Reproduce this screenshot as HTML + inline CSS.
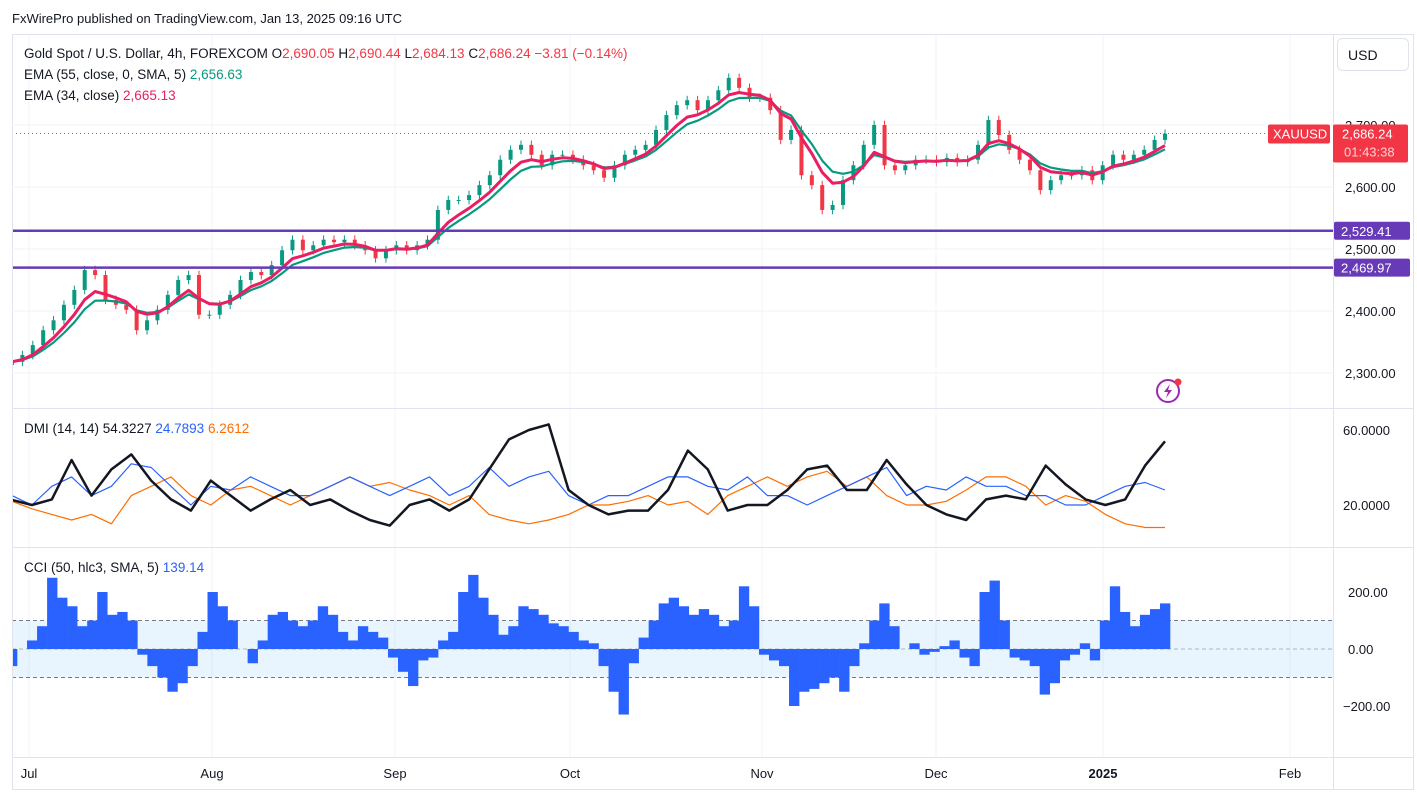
<!DOCTYPE html>
<html><head><meta charset="utf-8">
<style>
html,body{margin:0;padding:0;background:#fff;}
body{width:1417px;height:794px;overflow:hidden;font-family:"Liberation Sans",sans-serif;}
svg text{font-family:"Liberation Sans",sans-serif;}
</style></head>
<body>
<svg id="c" width="1417" height="794" xmlns="http://www.w3.org/2000/svg">
<defs><clipPath id="plot"><rect x="13" y="35" width="1320" height="722"/></clipPath></defs>
<text x="12" y="23" font-size="13" fill="#131722">FxWirePro published on TradingView.com, Jan 13, 2025 09:16 UTC</text>
<rect x="12.5" y="34.5" width="1401" height="755" fill="none" stroke="#e0e3eb"/>
<g id="grid"></g>
<g clip-path="url(#plot)"><g id="main"></g><g id="dmi"></g><g id="cci"></g></g>
<g id="axes"></g>
<g id="legend" font-size="13.5">
<text x="24" y="58" fill="#131722">Gold Spot / U.S. Dollar, 4h, FOREXCOM  <tspan>O</tspan><tspan fill="#f23645">2,690.05</tspan>  H<tspan fill="#f23645">2,690.44</tspan>  L<tspan fill="#f23645">2,684.13</tspan>  C<tspan fill="#f23645">2,686.24</tspan> <tspan fill="#f23645">−3.81 (−0.14%)</tspan></text>
<text x="24" y="79" fill="#131722">EMA (55, close, 0, SMA, 5)  <tspan fill="#089981">2,656.63</tspan></text>
<text x="24" y="100" fill="#131722">EMA (34, close)  <tspan fill="#e91e63">2,665.13</tspan></text>
<text x="24" y="433" fill="#131722">DMI (14, 14)  <tspan fill="#131722">54.3227</tspan>  <tspan fill="#2962ff">24.7893</tspan>  <tspan fill="#ff6d00">6.2612</tspan></text>
<text x="24" y="572" fill="#131722">CCI (50, hlc3, SMA, 5)  <tspan fill="#2962ff">139.14</tspan></text>
</g>
<g>
<rect x="1337.5" y="38.5" width="71" height="32" rx="5" fill="#fff" stroke="#e0e3eb"/>
<text x="1348" y="60" font-size="14" fill="#131722">USD</text>
</g>
<g>
<circle cx="1168" cy="391" r="11" fill="none" stroke="#9c27b0" stroke-width="2"/>
<path d="M1170 384 l-6 8 h4 l-2 6 l6 -8 h-4z" fill="#9c27b0"/>
<circle cx="1178" cy="382" r="3.5" fill="#f23645"/>
</g>
</svg>
<script>
// ---- data ----
const closes=[2318,2329,2345,2369,2385,2410,2434,2466,2458,2418,2410,2402,2369,2385,2402,2426,2450,2458,2394,2394,2410,2426,2450,2463,2458,2474,2498,2515,2498,2506,2515,2511,2515,2506,2498,2485,2498,2506,2498,2506,2515,2563,2579,2579,2587,2603,2619,2644,2660,2668,2652,2635,2652,2652,2644,2635,2627,2615,2635,2652,2660,2668,2692,2716,2732,2740,2724,2740,2756,2776,2760,2744,2744,2724,2676,2692,2619,2603,2563,2571,2611,2635,2668,2700,2635,2627,2635,2644,2644,2640,2647,2640,2644,2668,2708,2684,2660,2644,2627,2595,2611,2619,2619,2627,2611,2635,2652,2644,2652,2660,2676,2686];
const adx=[22.7,20,23,44,25,39,47,33,23,17,33,25,17,23,28,20,23,17,12,9,20,23,17,23,39,55,60,63,28,20,15,17,17,28,49,39,17,20,20,28,39,41,28,28,44,31,20,15,12,23,25,23,41,31,23,20,23,41,54];
const plusDI=[25,20,30,35,25,30,42,40,30,20,30,28,35,30,25,25,30,35,30,25,30,35,25,30,40,30,35,38,25,20,25,25,30,35,35,30,28,35,25,25,20,25,30,35,40,25,30,28,35,30,30,25,25,20,20,25,30,32,28];
const minusDI=[22,18,15,12,15,10,25,30,35,25,20,28,30,25,20,25,30,35,30,32,28,25,20,25,15,12,10,12,15,20,20,22,25,20,22,15,25,30,35,30,35,38,30,35,25,20,20,22,28,35,35,30,20,25,22,15,10,8,8];
const cci=[-60,0,30,80,250,180,150,80,100,200,120,130,100,-20,-60,-100,-150,-120,-60,60,200,150,100,0,-50,30,120,130,100,80,100,150,120,60,30,80,60,40,-30,-80,-130,-40,-30,30,60,200,260,180,120,50,80,150,140,120,90,80,60,30,20,-60,-150,-230,-50,40,100,160,180,150,120,140,120,80,100,220,150,-20,-40,-60,-200,-150,-140,-120,-100,-150,-60,20,100,160,80,0,20,-20,-10,10,30,-30,-60,200,240,100,-30,-40,-60,-160,-120,-40,-20,20,-40,100,220,130,80,120,140,160];
const priceTicks=[2300,2400,2500,2600,2700];
const dmiTicks=[20,60];
const cciTicks=[-200,0,200];
const months=["Jul","Aug","Sep","Oct","Nov","Dec","2025","Feb"];
const levels=[2529.41,2469.97];
const lastPrice=2686.24;
// ---- scales ----
const X0=12,X1=1333,XEND=1165;
const mX=[29,212,395,570,762,936,1103,1290];
const py=p=>125+(2700-p)*0.62;
const dy=v=>505-(v-20)*1.875;
const cy=v=>649-v*0.285;
const NS="http://www.w3.org/2000/svg";
function el(tag,attrs,parent,txt){const e=document.createElementNS(NS,tag);for(const k in attrs)e.setAttribute(k,attrs[k]);if(txt!==undefined)e.textContent=txt;parent.appendChild(e);return e;}
const G=id=>document.getElementById(id);
const grid=G('grid'),main=G('main'),dmi=G('dmi'),cc=G('cci'),axes=G('axes');
mX.forEach(x=>{const l=el('line',{x1:x,x2:x,y1:35,y2:757,stroke:'#f0f3fa'},grid);

});
priceTicks.forEach(p=>{const l=el('line',{x1:X0,x2:X1,y1:py(p),y2:py(p),stroke:'#f0f3fa'},grid);

});
[408,547,757].forEach(y=>{const l=el('line',{x1:X0,x2:1413,y1:y+.5,y2:y+.5,stroke:'#e0e3eb'},axes);

});
const vl=el('line',{x1:X1+.5,x2:X1+.5,y1:35,y2:790,stroke:'#e0e3eb'},axes);


// candles
const n=closes.length,step=(XEND-X0)/(n-1);
const xi=i=>X0+i*step;
for(let i=0;i<n;i++){
  const o=i?closes[i-1]:closes[0]-5,c=closes[i];
  const up=c>=o,col=up?'#089981':'#f23645';
  const hi=Math.max(o,c)+7,lo=Math.min(o,c)-7,x=xi(i);
  const w=el('line',{x1:x,x2:x,y1:py(hi),y2:py(lo),stroke:col},main);
  
  
  const b=el('rect',{x:x-2,y:py(Math.max(o,c)),width:4,height:Math.max(1,Math.abs(py(o)-py(c))),fill:col},main);
  
  
}
function ema(a,p){const k=2/(p+1);let r=[],e=a[0];a.forEach(v=>{e=v*k+e*(1-k);r.push(e);});return r;}
function line(vals,xf,yf,col,w,name,parent){const d=vals.map((v,i)=>(i?'L':'M')+xf(i).toFixed(1)+' '+yf(v).toFixed(1)).join('');
const p=el('path',{d:d,fill:'none',stroke:col,'stroke-width':w,'stroke-linejoin':'round'},parent);

}
line(ema(closes,7),xi,py,'#089981',2.2,'ema55-line',main);
line(ema(closes,5),xi,py,'#e91e63',3,'ema34-line',main);
levels.forEach(l=>{const h=el('line',{x1:X0,x2:X1,y1:py(l),y2:py(l),stroke:'#673ab7','stroke-width':2.5},main);


const r=el('rect',{x:1334,y:py(l)-9,width:76,height:18,rx:2,fill:'#673ab7'},axes);


const t=el('text',{x:1341,y:py(l)+5,'font-size':13,fill:'#fff'},axes,l.toLocaleString('en-US',{minimumFractionDigits:2}));

});
priceTicks.forEach(p=>{const t=el('text',{x:1345,y:py(p)+5,'font-size':13,fill:'#131722'},axes,p.toLocaleString('en-US',{minimumFractionDigits:2}));

});
const pl=el('line',{x1:X0,x2:1268,y1:py(lastPrice),y2:py(lastPrice),stroke:'#f23645','stroke-dasharray':'1 3'},main);


const sb=el('rect',{x:1268,y:py(lastPrice)-9,width:62,height:19,rx:2,fill:'#f23645'},axes);


const st=el('text',{x:1273,y:py(lastPrice)+5,'font-size':13,fill:'#fff'},axes,'XAUUSD');


const lb=el('rect',{x:1333,y:py(lastPrice)-9,width:75,height:38,rx:2,fill:'#f23645'},axes);


const lt=el('text',{x:1342,y:py(lastPrice)+5,'font-size':13,fill:'#fff'},axes,lastPrice.toLocaleString('en-US',{minimumFractionDigits:2}));


const ct=el('text',{x:1344,y:py(lastPrice)+23,'font-size':13,fill:'#ffd0d4'},axes,'01:43:38');


// DMI
const dn=adx.length,dx=i=>X0+i*(XEND-X0)/(dn-1);
line(minusDI,dx,dy,'#ff6d00',1.2,'minus-di-line',dmi);
line(plusDI,dx,dy,'#2962ff',1.2,'plus-di-line',dmi);
line(adx,dx,dy,'#131722',2.5,'adx-line',dmi);
dmiTicks.forEach(v=>{const t=el('text',{x:1343,y:dy(v)+5,'font-size':13,fill:'#131722'},axes,v.toFixed(4));

});
// CCI
const band=el('rect',{x:X0,y:cy(100),width:X1-X0,height:cy(-100)-cy(100),fill:'#2196f3','fill-opacity':0.1},cc);


[100,0,-100].forEach(v=>{const l=el('line',{x1:X0,x2:X1,y1:cy(v),y2:cy(v),stroke:v?'#787b86':'#b2b5be','stroke-dasharray':'4 3'},cc);

});
const cn=cci.length,cw=(XEND-X0)/(cn-1),cx=i=>X0+i*cw;
cci.forEach((v,i)=>{const b=el('rect',{x:cx(i)-cw/2,y:Math.min(cy(v),cy(0)),width:cw+0.3,height:Math.abs(cy(v)-cy(0)),fill:'#2962ff'},cc);

});
cciTicks.forEach(v=>{const t=el('text',{x:v<0?1343:1348,y:cy(v)+5,'font-size':13,fill:'#131722'},axes,(v<0?'−':'')+Math.abs(v).toFixed(2));

});
months.forEach((m,i)=>{const t=el('text',{x:mX[i],y:778,'font-size':13,fill:'#131722','text-anchor':'middle','font-weight':m==='2025'?'bold':'normal'},axes,m);

});
</script>
</body></html>
